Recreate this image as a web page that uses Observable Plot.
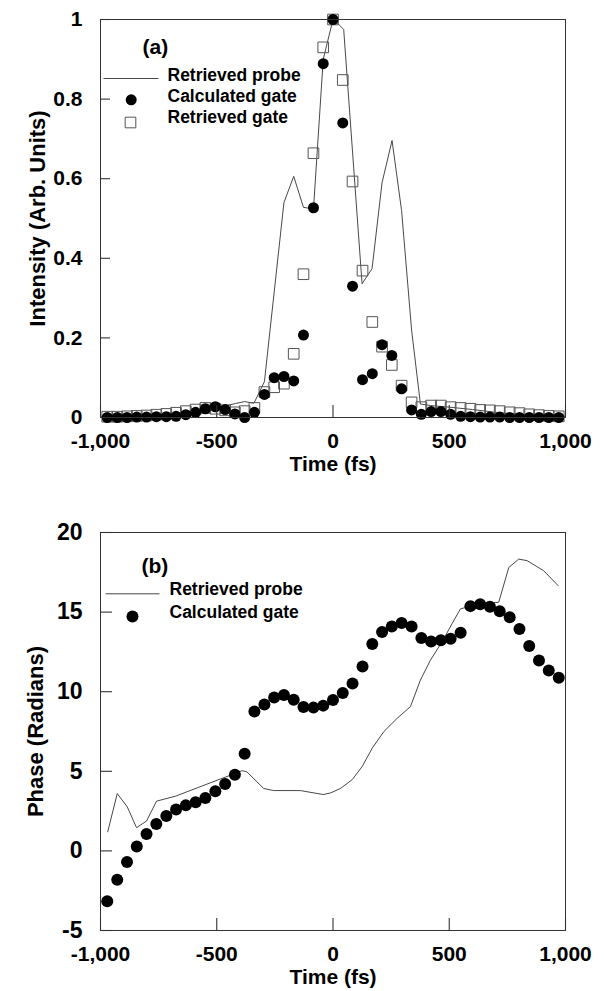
<!DOCTYPE html>
<html><head><meta charset="utf-8">
<script src="https://cdn.jsdelivr.net/npm/d3@7"></script>
<script src="https://cdn.jsdelivr.net/npm/@observablehq/plot@0.6"></script>
<style>
html,body{margin:0;padding:0;background:#fff;}
#chart{width:605px;}
#chart svg{display:block;}
</style></head><body><div id="chart"></div>
<script>
// ---- data ----
const xTicks = [-1000, -500, 0, 500, 1000];
const intensityTicks = [0, 0.2, 0.4, 0.6, 0.8, 1];
const phaseTicks = [-5, 0, 5, 10, 15, 20];

// sample times (fs) of the gate points
const time = [-971,-928,-886,-844,-802,-760,-717,-675,-633,-591,-549,-506,-464,-422,-380,-338,-295,-253,-211,-169,-127,-84,-42,0,42,84,127,169,211,253,295,338,380,422,464,506,549,591,633,675,717,760,802,844,886,928,971];

// panel (a)
const calcGateIntensity = [0,0,0,0.001,0.001,0.002,0.002,0.003,0.007,0.013,0.022,0.027,0.02,0.009,0,0.013,0.058,0.1,0.103,0.092,0.207,0.527,0.889,1.0,0.74,0.33,0.095,0.11,0.183,0.156,0.072,0.019,0.008,0.015,0.015,0.008,0.003,0.002,0.001,0.001,0.001,0,0,0,0,0,0];
const retrGateIntensity = [0.002,0.002,0.003,0.004,0.005,0.007,0.009,0.012,0.016,0.02,0.024,0.022,0.018,0.013,0.016,0.024,0.064,0.076,0.085,0.16,0.36,0.664,0.93,1.0,0.848,0.593,0.369,0.24,0.178,0.132,0.08,0.038,0.026,0.03,0.03,0.026,0.024,0.022,0.019,0.018,0.016,0.013,0.011,0.008,0.006,0.004,0.003];
const probeTimeA = [-1000,-900,-800,-700,-600,-500,-420,-380,-340,-295,-211,-169,-127,-84,-42,0,21,46,125,168,211,254,295,338,376,420,500,600,700,800,900,1000];
const probeIntensity = [0.002,0.003,0.005,0.009,0.015,0.024,0.035,0.04,0.036,0.09,0.54,0.606,0.528,0.524,0.9,1.0,0.99,0.975,0.336,0.374,0.59,0.696,0.52,0.22,0.034,0.03,0.026,0.02,0.013,0.008,0.005,0.003];

// panel (b)
const calcGatePhase = [-3.17,-1.81,-0.69,0.27,1.06,1.69,2.19,2.6,2.86,3.06,3.33,3.75,4.2,4.79,6.1,8.75,9.2,9.63,9.8,9.5,9.04,9.0,9.125,9.48,9.92,10.52,11.58,13.0,13.75,14.1,14.31,14.1,13.375,13.15,13.23,13.33,13.7,15.375,15.5,15.33,15.06,14.67,13.94,12.875,11.96,11.33,10.875];
const probeTimeB = [-969,-928,-885,-845,-802,-759,-677,-584,-484,-427,-391,-370,-298,-255,-140,-42,-11,32,83,126,169,219,276,333,376,419,469,512,548,591,713,756,799,835,906,968];
const probePhase = [1.2,3.6,2.77,1.46,1.875,3.125,3.44,3.96,4.52,4.83,5.04,4.96,3.92,3.79,3.79,3.54,3.64,3.92,4.48,5.31,6.46,7.5,8.33,9.06,10.73,11.98,13.125,14.27,15.2,15.375,15.625,17.8,18.33,18.23,17.6,16.67];

const legendA = ["Retrieved probe", "Calculated gate", "Retrieved gate"];
const legendB = ["Retrieved probe", "Calculated gate"];

// ---- tables ----
const gateA = time.map((t, i) => ({t, calc: calcGateIntensity[i], retr: retrGateIntensity[i]}));
const probeA = probeTimeA.map((t, i) => ({t, v: probeIntensity[i]}));
const gateB = time.map((t, i) => ({t, v: calcGatePhase[i]}));
const probeB = probeTimeB.map((t, i) => ({t, v: probePhase[i]}));

const fmtX = d => (d < 0 ? "-" : "") + d3.format(",")(Math.abs(d));
const fmtY = d => (d < 0 ? "-" : "") + String(Math.abs(d));
const FONT = "'Liberation Sans', Arial, Helvetica, sans-serif";
const lineSym = half => ({draw(ctx) { ctx.moveTo(-half, 0); ctx.lineTo(half, 0); }});
const LINE = "#333";
const FRAME = "#333";
const W = 605, ML = 100, MR = 40;
const FW = W - ML - MR; // frame width in px

function legendText(label, dx, dy) {
  return Plot.text([label], {text: d => d, frameAnchor: "top-left", dx, dy, textAnchor: "start", lineAnchor: "middle", fontSize: 17.5, fontWeight: "bold", fill: "black"});
}
// inward tick marks along the left and bottom frame edges
function innerTicks(yTicks, frameH, yLen, xLen) {
  return [
    Plot.tickY(yTicks, {y: d => d, insetRight: FW - yLen, stroke: FRAME, strokeWidth: 1.1}),
    Plot.tickX(xTicks, {x: d => d, insetTop: frameH - xLen, stroke: FRAME, strokeWidth: 1.1})
  ];
}

const plotA = Plot.plot({
  width: W, height: 480,
  marginLeft: ML, marginRight: MR, marginTop: 19, marginBottom: 63,
  style: {fontFamily: FONT, fontWeight: "bold", color: "black", background: "white"},
  x: {domain: [-1000, 1000]},
  y: {domain: [0, 1]},
  marks: [
    Plot.line(probeA, {x: "t", y: "v", stroke: LINE, strokeWidth: 0.9}),
    Plot.dot(gateA, {x: "t", y: "retr", symbol: "square", r: 6, stroke: "#555", strokeWidth: 1, fill: "none"}),
    Plot.dot(gateA, {x: "t", y: "calc", r: 5.5, fill: "black", stroke: "none"}),
    Plot.frame({stroke: FRAME, strokeWidth: 1}),
    ...innerTicks(intensityTicks, 480 - 19 - 63, 10, 12),
    Plot.axisX({ticks: xTicks, tickSize: 0, tickPadding: 16, tickFormat: fmtX, fontSize: 21, fontWeight: "bold", label: null}),
    Plot.axisY({ticks: intensityTicks, tickSize: 0, tickPadding: 18, tickFormat: fmtY, fontSize: 21, fontWeight: "bold", label: null}),
    Plot.text(["Time (fs)"], {text: d => d, frameAnchor: "bottom", dy: 47, lineAnchor: "middle", fontSize: 21, fontWeight: "bold"}),
    Plot.text(["Intensity (Arb. Units)"], {text: d => d, frameAnchor: "left", dx: -63, rotate: -90, lineAnchor: "middle", textAnchor: "middle", fontSize: 22, fontWeight: "bold"}),
    Plot.text(["(a)"], {text: d => d, frameAnchor: "top-left", dx: 42, dy: 28, textAnchor: "start", lineAnchor: "middle", fontSize: 21, fontWeight: "bold"}),
    Plot.dot([0], {frameAnchor: "top-left", dx: 30.5, dy: 59, symbol: lineSym(27.5), stroke: LINE, strokeWidth: 0.9, fill: "none"}),
    legendText(legendA[0], 67, 55.5),
    Plot.dot([0], {frameAnchor: "top-left", dx: 30.7, dy: 80.3, r: 5.5, fill: "black"}),
    legendText(legendA[1], 67, 77),
    Plot.dot([0], {frameAnchor: "top-left", dx: 30, dy: 103, symbol: "square", r: 6, stroke: "#555", strokeWidth: 1, fill: "none"}),
    legendText(legendA[2], 67, 97.5)
  ]
});

const plotB = Plot.plot({
  width: W, height: 511,
  marginLeft: ML, marginRight: MR, marginTop: 52, marginBottom: 61,
  style: {fontFamily: FONT, fontWeight: "bold", color: "black", background: "white"},
  x: {domain: [-1000, 1000]},
  y: {domain: [-5, 20]},
  marks: [
    Plot.line(probeB, {x: "t", y: "v", stroke: LINE, strokeWidth: 0.9}),
    Plot.dot(gateB, {x: "t", y: "v", r: 6, fill: "black", stroke: "none"}),
    Plot.frame({stroke: FRAME, strokeWidth: 1}),
    ...innerTicks(phaseTicks, 511 - 52 - 61, 12, 12),
    Plot.axisX({ticks: xTicks, tickSize: 0, tickPadding: 16, tickFormat: fmtX, fontSize: 21, fontWeight: "bold", label: null}),
    Plot.axisY({ticks: phaseTicks, tickSize: 0, tickPadding: 18, tickFormat: fmtY, fontSize: 23, fontWeight: "bold", label: null}),
    Plot.text(["Time (fs)"], {text: d => d, frameAnchor: "bottom", dy: 47, lineAnchor: "middle", fontSize: 21, fontWeight: "bold"}),
    Plot.text(["Phase (Radians)"], {text: d => d, frameAnchor: "left", dx: -65, rotate: -90, lineAnchor: "middle", textAnchor: "middle", fontSize: 22, fontWeight: "bold"}),
    Plot.text(["(b)"], {text: d => d, frameAnchor: "top-left", dx: 41, dy: 34, textAnchor: "start", lineAnchor: "middle", fontSize: 21, fontWeight: "bold"}),
    Plot.dot([0], {frameAnchor: "top-left", dx: 32, dy: 61.3, symbol: lineSym(27), stroke: LINE, strokeWidth: 0.9, fill: "none"}),
    legendText(legendB[0], 69, 57),
    Plot.dot([0], {frameAnchor: "top-left", dx: 32, dy: 84, r: 6, fill: "black"}),
    legendText(legendB[1], 69, 80)
  ]
});

const root = document.getElementById("chart");
root.appendChild(plotA);
root.appendChild(plotB);
</script></body></html>
